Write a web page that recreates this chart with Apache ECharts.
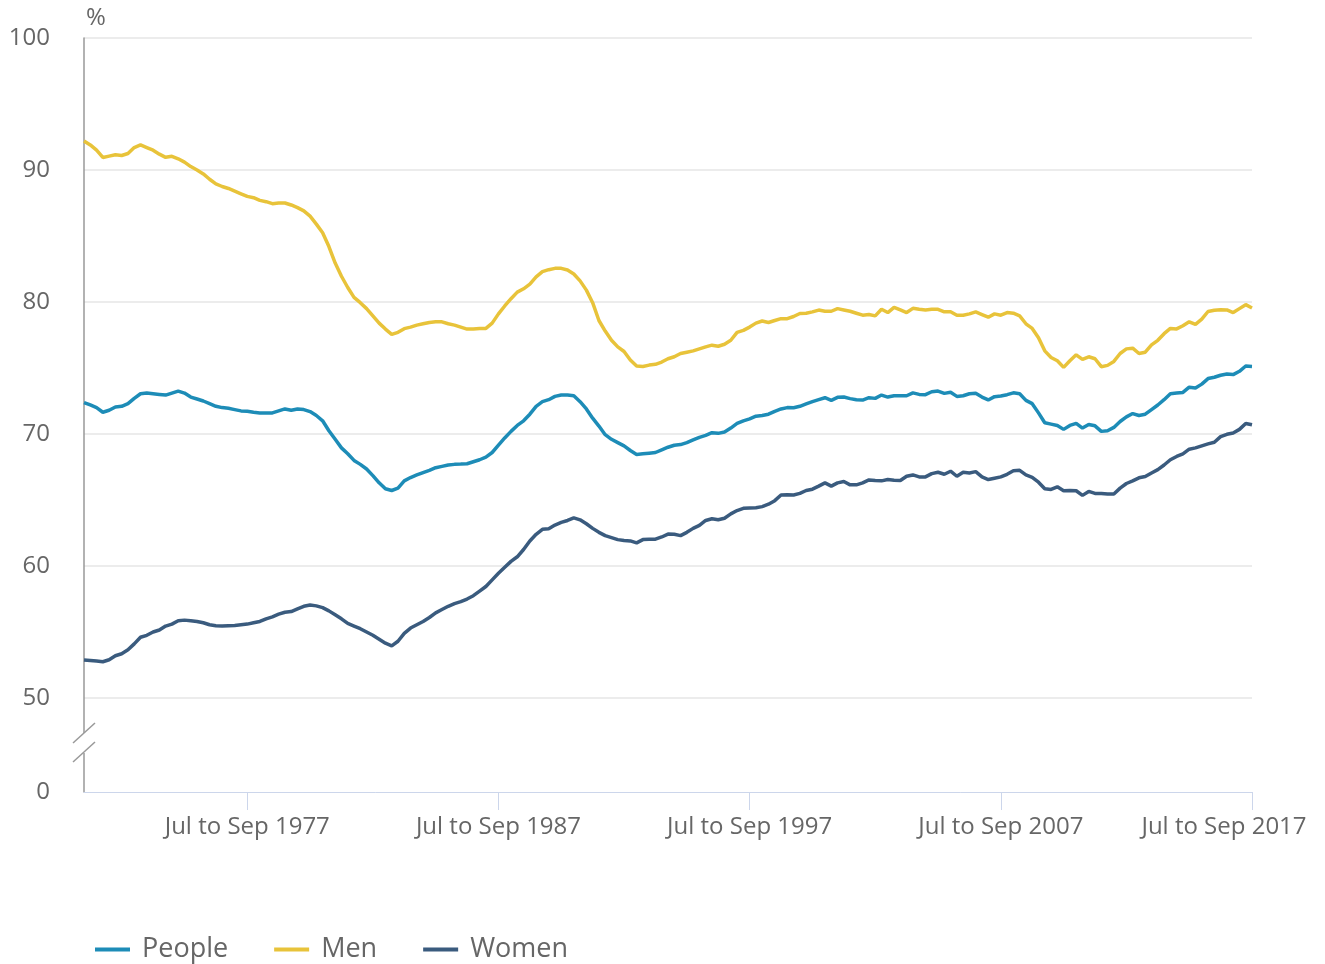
<!DOCTYPE html>
<html>
<head>
<meta charset="utf-8">
<script src="https://cdn.jsdelivr.net/npm/echarts@6/dist/echarts.min.js"></script>
<style>
  html, body { margin: 0; padding: 0; background: #fff; }
  #chart { width: 1325px; height: 964px; }
</style>
</head>
<body>
<div id="chart"></div>
<script>
// quarterly rolling periods, Jan to Mar 1971 .. Jul to Sep 2017
const startYear = 1971;
const quarterNames = ["Jan to Mar", "Apr to Jun", "Jul to Sep", "Oct to Dec"];
const tickLabels = ["Jul to Sep 1977", "Jul to Sep 1987", "Jul to Sep 1997", "Jul to Sep 2007", "Jul to Sep 2017"];

const people = [
  72.38, 72.2, 72.0, 71.65, 71.8, 72.05, 72.1, 72.3, 72.7, 73.05,
  73.1, 73.05, 73.0, 72.95, 73.1, 73.25, 73.1, 72.8, 72.65, 72.5,
  72.3, 72.1, 72.0, 71.95, 71.85, 71.75, 71.72, 71.65, 71.6, 71.6,
  71.6, 71.75, 71.9, 71.8, 71.9, 71.85, 71.7, 71.4, 71.0, 70.25,
  69.6, 68.95, 68.5, 68.0, 67.7, 67.35, 66.85, 66.3, 65.85, 65.72,
  65.9, 66.45, 66.7, 66.9, 67.08, 67.25, 67.45, 67.55, 67.65, 67.7,
  67.72, 67.75, 67.9, 68.05, 68.25, 68.6, 69.15, 69.7, 70.2, 70.65,
  71.0, 71.5, 72.1, 72.45, 72.6, 72.85, 72.95, 72.95, 72.9, 72.45,
  71.9, 71.2, 70.6, 69.95, 69.6, 69.35, 69.1, 68.75, 68.45, 68.5,
  68.55, 68.6, 68.8, 69.0, 69.15, 69.2, 69.35, 69.55, 69.75, 69.9,
  70.1, 70.05, 70.15, 70.45, 70.8, 71.0, 71.15, 71.35, 71.4, 71.5,
  71.72, 71.9, 72.0, 71.99, 72.1, 72.28, 72.45, 72.6, 72.75, 72.55,
  72.78, 72.8, 72.68, 72.6, 72.57, 72.75, 72.7, 72.95, 72.8, 72.9,
  72.9, 72.9, 73.12, 73.0, 72.98, 73.2, 73.25, 73.08, 73.16, 72.85,
  72.9, 73.05, 73.08, 72.8, 72.58, 72.83, 72.88, 72.98, 73.12, 73.05,
  72.55, 72.3, 71.6, 70.85, 70.75, 70.65, 70.35, 70.65, 70.8, 70.45,
  70.72, 70.62, 70.2, 70.25, 70.5, 70.95, 71.3, 71.55, 71.4, 71.5,
  71.85, 72.2, 72.6, 73.05, 73.1, 73.15, 73.55, 73.48, 73.78, 74.2,
  74.3, 74.45, 74.55, 74.5, 74.75, 75.15, 75.12
];

const men = [
  92.2, 91.9, 91.5, 90.95, 91.05, 91.15, 91.1, 91.25, 91.7, 91.9,
  91.7, 91.5, 91.2, 90.96, 91.04, 90.85, 90.6, 90.26, 90.0, 89.7,
  89.3, 88.95, 88.75, 88.6, 88.4, 88.2, 88.0, 87.9, 87.7, 87.6,
  87.45, 87.5, 87.5, 87.35, 87.15, 86.9, 86.5, 85.9, 85.25, 84.2,
  82.95, 81.95, 81.1, 80.35, 79.95, 79.5, 78.95, 78.4, 77.95, 77.55,
  77.7, 77.98, 78.1, 78.25, 78.35, 78.45, 78.5, 78.5, 78.35, 78.25,
  78.1, 77.95, 77.95, 78.0, 78.0, 78.4, 79.1, 79.7, 80.25, 80.75,
  81.0, 81.35, 81.9, 82.3, 82.45, 82.55, 82.55, 82.42, 82.12, 81.6,
  80.9, 79.95, 78.6, 77.8, 77.1, 76.6, 76.25, 75.6, 75.15, 75.12,
  75.22, 75.28, 75.45, 75.7, 75.85, 76.1, 76.2, 76.3, 76.45, 76.6,
  76.73, 76.65, 76.8, 77.1, 77.7, 77.85, 78.1, 78.4, 78.56, 78.45,
  78.6, 78.74, 78.74, 78.9, 79.13, 79.15, 79.25, 79.39, 79.3, 79.3,
  79.5, 79.4, 79.3, 79.15, 79.0, 79.05, 78.95, 79.45, 79.2, 79.6,
  79.4, 79.2, 79.52, 79.45, 79.4, 79.45, 79.45, 79.26, 79.26, 79.0,
  79.0, 79.1, 79.25, 79.05, 78.85, 79.1, 79.0, 79.2, 79.15, 78.95,
  78.35, 78.0, 77.3, 76.3, 75.8, 75.55, 75.05, 75.55, 76.0, 75.65,
  75.85, 75.7, 75.1, 75.2, 75.5, 76.1, 76.45, 76.5, 76.1, 76.2,
  76.75, 77.1, 77.6, 78.0, 77.96, 78.2, 78.5, 78.3, 78.7, 79.28,
  79.37, 79.42, 79.4, 79.2, 79.5, 79.8, 79.55
];

const women = [
  52.88, 52.85, 52.8, 52.75, 52.9, 53.2, 53.35, 53.65, 54.1, 54.6,
  54.75, 55.0, 55.15, 55.45, 55.6, 55.85, 55.9, 55.85, 55.8, 55.7,
  55.55, 55.48, 55.45, 55.48, 55.5, 55.55, 55.6, 55.7, 55.8, 56.0,
  56.15, 56.35, 56.5, 56.55, 56.75, 56.95, 57.04, 56.98, 56.85, 56.6,
  56.3, 56.0, 55.65, 55.45, 55.25, 55.0, 54.75, 54.45, 54.15, 53.95,
  54.3, 54.9, 55.3, 55.55, 55.8, 56.1, 56.45, 56.7, 56.95, 57.15,
  57.3, 57.5, 57.75, 58.1, 58.45, 58.95, 59.45, 59.9, 60.35, 60.7,
  61.25, 61.9, 62.4, 62.78, 62.82, 63.1, 63.3, 63.45, 63.65, 63.5,
  63.2, 62.85, 62.55, 62.3, 62.15, 62.0, 61.93, 61.9, 61.75, 62.0,
  62.03, 62.03, 62.2, 62.42, 62.4, 62.3, 62.55, 62.85, 63.08, 63.45,
  63.58, 63.5, 63.62, 63.95, 64.2, 64.37, 64.4, 64.42, 64.5, 64.68,
  64.95, 65.38, 65.4, 65.38, 65.5, 65.72, 65.82, 66.05, 66.3, 66.05,
  66.3, 66.4, 66.15, 66.15, 66.3, 66.52, 66.48, 66.45, 66.55, 66.5,
  66.48, 66.8, 66.9, 66.75, 66.75, 67.0, 67.1, 66.95, 67.18, 66.8,
  67.1, 67.05, 67.15, 66.75, 66.55, 66.65, 66.75, 66.95, 67.22, 67.25,
  66.9, 66.72, 66.35, 65.85, 65.8, 66.0, 65.7, 65.72, 65.7, 65.35,
  65.65, 65.5, 65.5, 65.45, 65.45, 65.9, 66.25, 66.45, 66.68, 66.78,
  67.05, 67.3, 67.65, 68.05, 68.3, 68.5, 68.85, 68.95, 69.1, 69.25,
  69.38, 69.8, 69.98, 70.08, 70.35, 70.8, 70.7
];

const categories = [];
for (let i = 0; i < people.length; i++) {
  categories.push(quarterNames[i % 4] + " " + (startYear + Math.floor(i / 4)));
}

const font = "'Open Sans', sans-serif";
// the axis is broken between 0 and 50: 0 sits at the bottom of the plot
const yBottom = 42.88;

const showTick = (idx, val) => tickLabels.indexOf(val) >= 0;
const lastLabel = tickLabels[tickLabels.length - 1];

const chart = echarts.init(document.getElementById("chart"));
chart.setOption({
  animation: false,
  textStyle: { fontFamily: font },
  grid: { left: 84, right: 73, top: 38, bottom: 172, containLabel: false, outerBoundsMode: "none" },
  legend: {
    left: 90,
    top: 931,
    itemWidth: 35,
    itemHeight: 4,
    itemGap: 46,
    icon: "rect",
    textStyle: { fontFamily: font, fontSize: 27, color: "#666", padding: [0, 0, 0, 7] },
    data: ["People", "Men", "Women"]
  },
  xAxis: {
    type: "category",
    data: categories,
    boundaryGap: false,
    axisLine: { lineStyle: { color: "#ccd6eb", width: 1 } },
    axisTick: { interval: showTick, length: 18, lineStyle: { color: "#ccd6eb" } },
    axisLabel: {
      interval: showTick, fontSize: 24, color: "#666", margin: 23, fontFamily: font,
      // keep the last label inside the chart, like the original
      formatter: v => (v === lastLabel ? "{last|" + v + "}" : v),
      rich: { last: { fontSize: 24, color: "#666", fontFamily: font, padding: [0, 56, 0, 0] } }
    },
    splitLine: { show: false }
  },
  yAxis: {
    type: "value",
    min: yBottom,
    max: 100,
    name: "%",
    nameLocation: "end",
    nameGap: 8,
    nameTextStyle: { fontSize: 24, color: "#666", align: "left", padding: [0, 0, 0, 2], fontFamily: font },
    axisLine: { show: true, lineStyle: { color: "#999", width: 1.5 } },
    axisTick: { show: false },
    axisLabel: {
      fontSize: 24, color: "#666", margin: 34, fontFamily: font,
      formatter: v => (v < 45 ? "0" : String(v))
    },
    splitLine: { showMinLine: false, lineStyle: { color: "#e6e6e6", width: 1.5 } }
  },
  series: [
    { name: "People", type: "line", data: people, showSymbol: false, color: "#1d8cb7", lineStyle: { width: 3.5 } },
    { name: "Men", type: "line", data: men, showSymbol: false, color: "#e8c33a", lineStyle: { width: 3.5 } },
    { name: "Women", type: "line", data: women, showSymbol: false, color: "#3a5b7e", lineStyle: { width: 3.5 } }
  ],
  graphic: [
    { type: "rect", shape: { x: 81, y: 733, width: 6, height: 20 }, style: { fill: "#fff" }, z: 100 },
    { type: "line", shape: { x1: 73, y1: 743, x2: 95, y2: 723 }, style: { stroke: "#999", lineWidth: 1.5 }, z: 101 },
    { type: "line", shape: { x1: 73, y1: 762, x2: 95, y2: 742 }, style: { stroke: "#999", lineWidth: 1.5 }, z: 101 }
  ]
});
</script>
</body>
</html>
